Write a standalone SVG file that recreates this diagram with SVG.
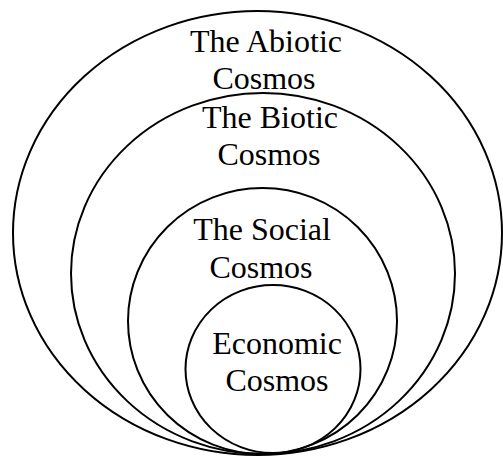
<svg xmlns="http://www.w3.org/2000/svg" width="503" height="457" viewBox="0 0 503 457">
<style>
.e{fill:none;stroke:#000;stroke-width:2}
.t{font-family:"Liberation Serif","Times New Roman",serif;font-size:32px;fill:#000;text-anchor:middle}
</style>
<rect width="503" height="457" fill="#fff"/>
<g id="abiotic">
<ellipse class="e" cx="257.5" cy="233" rx="244.5" ry="222"/>
<text class="t" x="266" y="52">The Abiotic</text>
<text class="t" x="264" y="89">Cosmos</text>
</g>
<g id="biotic">
<ellipse class="e" cx="263" cy="273.5" rx="192" ry="180.5"/>
<text class="t" x="270" y="128">The Biotic</text>
<text class="t" x="269" y="165">Cosmos</text>
</g>
<g id="social">
<ellipse class="e" cx="262.5" cy="321" rx="134.5" ry="133"/>
<text class="t" x="262" y="240">The Social</text>
<text class="t" x="261" y="278">Cosmos</text>
</g>
<g id="economic">
<ellipse class="e" cx="273" cy="369" rx="87.5" ry="84"/>
<text class="t" x="277" y="354">Economic</text>
<text class="t" x="277" y="391">Cosmos</text>
</g>
<g id="connectors"/>
</svg>
